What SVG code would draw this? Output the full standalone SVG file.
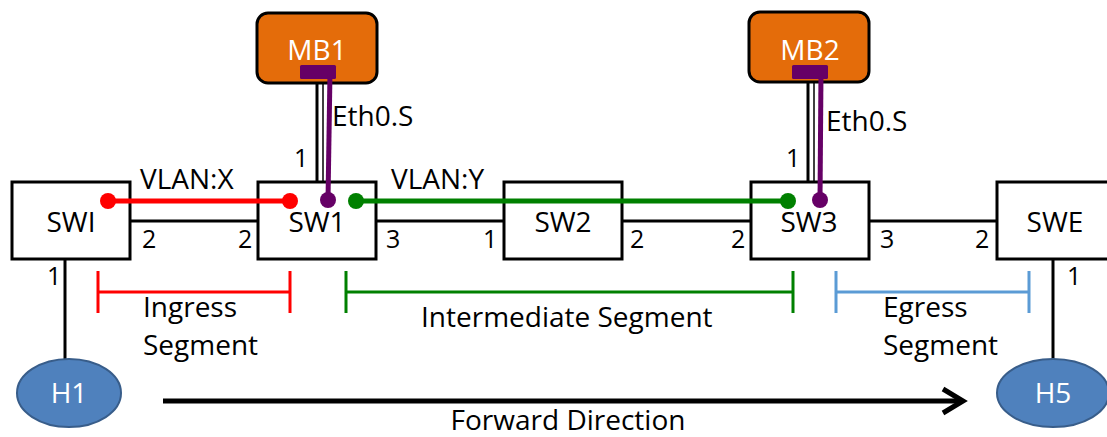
<svg xmlns="http://www.w3.org/2000/svg" width="1107" height="437" viewBox="0 0 1107 437">
  <style>
    .t { font-family: "Open Sans", "Liberation Sans", sans-serif; font-size: 28px; fill: #000; }
    .port { font-family: "Open Sans", "Liberation Sans", sans-serif; font-size: 25px; fill: #000; }
    .w { font-family: "Open Sans", "Liberation Sans", sans-serif; font-size: 28px; fill: #fff; text-anchor: middle; }
    .c { text-anchor: middle; }
    .sw { fill: #fff; stroke: #000; stroke-width: 3; }
    .mb { fill: #E46C0A; stroke: #000; stroke-width: 3; }
    .host { fill: #4F81BD; stroke: #385D8A; stroke-width: 2; }
    .link { stroke: #000; stroke-width: 3; fill: none; }
    .thin { stroke: #000; stroke-width: 1.5; fill: none; }
    .seg { stroke-width: 3; fill: none; }
  </style>

  <!-- physical links -->
  <g id="links">
    <line class="link" x1="130" y1="221" x2="258" y2="221"/>
    <line class="link" x1="376" y1="221" x2="504" y2="221"/>
    <line class="link" x1="622" y1="221" x2="751" y2="221"/>
    <line class="link" x1="869" y1="221" x2="997" y2="221"/>
    <line class="link" x1="317" y1="83" x2="317" y2="182"/>
    <line class="thin" x1="323" y1="83" x2="323" y2="182"/>
    <line class="link" x1="808" y1="82" x2="808" y2="182"/>
    <line class="thin" x1="814" y1="82" x2="814" y2="182"/>
    <line class="link" x1="65" y1="259" x2="65" y2="360"/>
    <line class="link" x1="1053" y1="259" x2="1053" y2="360"/>
  </g>

  <!-- switches -->
  <g id="swi"><rect class="sw" x="12" y="182" width="118" height="77"/><text class="t c" x="71" y="232">SWI</text></g>
  <g id="sw1"><rect class="sw" x="258" y="182" width="118" height="77"/><text class="t c" x="317" y="232">SW1</text></g>
  <g id="sw2"><rect class="sw" x="504" y="182" width="118" height="77"/><text class="t c" x="563" y="232">SW2</text></g>
  <g id="sw3"><rect class="sw" x="751" y="182" width="118" height="77"/><text class="t c" x="809" y="232">SW3</text></g>
  <g id="swe"><rect class="sw" x="997" y="182" width="125" height="77"/><text class="t c" x="1055" y="232">SWE</text></g>

  <!-- middleboxes -->
  <g id="mb1">
    <rect class="mb" x="257" y="13" width="120" height="70" rx="11"/>
    <text class="w" x="317" y="60">MB1</text>
    <rect x="300" y="65" width="36" height="14" rx="1.5" fill="#660066"/>
  </g>
  <g id="mb2">
    <rect class="mb" x="749" y="12" width="120" height="70" rx="11"/>
    <text class="w" x="810" y="60">MB2</text>
    <rect x="792" y="65" width="36" height="14" rx="1.5" fill="#660066"/>
  </g>

  <!-- hosts -->
  <g id="h1"><ellipse class="host" cx="69" cy="393" rx="52" ry="34"/><text class="w" x="69" y="403">H1</text></g>
  <g id="h5"><ellipse class="host" cx="1053" cy="393" rx="56" ry="34"/><text class="w" x="1053" y="403">H5</text></g>

  <!-- VLAN paths and service interface -->
  <g id="paths">
    <line x1="108" y1="201" x2="290" y2="201" stroke="#FF0000" stroke-width="5"/>
    <circle cx="108" cy="201" r="8" fill="#FF0000"/>
    <circle cx="290" cy="201" r="8" fill="#FF0000"/>
    <line x1="356" y1="201" x2="788" y2="201" stroke="#008000" stroke-width="5"/>
    <circle cx="356" cy="201" r="8" fill="#008000"/>
    <circle cx="788" cy="201" r="8" fill="#008000"/>
    <line x1="330" y1="72" x2="328" y2="200" stroke="#660066" stroke-width="5"/>
    <circle cx="328" cy="200" r="8" fill="#660066"/>
    <line x1="821" y1="72" x2="820" y2="200" stroke="#660066" stroke-width="5"/>
    <circle cx="820" cy="200" r="8" fill="#660066"/>
  </g>

  <!-- segment brackets -->
  <g id="segments">
    <path class="seg" stroke="#FF0000" d="M98 292H290M98 271V313M290 271V313"/>
    <path class="seg" stroke="#008000" d="M346 292H793M346 271V313M793 271V313"/>
    <path class="seg" stroke="#5B9BD5" d="M836 292H1029M836 271V313M1029 271V313"/>
  </g>

  <!-- forward direction arrow -->
  <g id="forward">
    <line x1="163" y1="401" x2="962" y2="401" stroke="#000" stroke-width="5"/>
    <path d="M943 389L963 401L943 413" fill="none" stroke="#000" stroke-width="5" stroke-linejoin="miter"/>
  </g>

  <!-- labels -->
  <g id="labels">
    <text class="t" x="140" y="189">VLAN:X</text>
    <text class="t" x="391" y="189">VLAN:Y</text>
    <text class="t" x="332" y="126">Eth0.S</text>
    <text class="t" x="826" y="131">Eth0.S</text>
    <text class="t" x="143" y="317">Ingress</text>
    <text class="t" x="143" y="355">Segment</text>
    <text class="t" x="421" y="327">Intermediate Segment</text>
    <text class="t" x="883" y="317">Egress</text>
    <text class="t" x="883" y="355">Segment</text>
    <text class="t c" x="568" y="430">Forward Direction</text>
  </g>

  <!-- port numbers -->
  <g id="ports">
    <text class="port" x="294" y="167">1</text>
    <text class="port" x="786" y="167">1</text>
    <text class="port" x="142" y="248">2</text>
    <text class="port" x="238" y="248">2</text>
    <text class="port" x="47" y="285">1</text>
    <text class="port" x="386" y="248">3</text>
    <text class="port" x="483" y="248">1</text>
    <text class="port" x="630" y="248">2</text>
    <text class="port" x="731" y="248">2</text>
    <text class="port" x="880" y="248">3</text>
    <text class="port" x="975" y="248">2</text>
    <text class="port" x="1067" y="285">1</text>
  </g>
</svg>
